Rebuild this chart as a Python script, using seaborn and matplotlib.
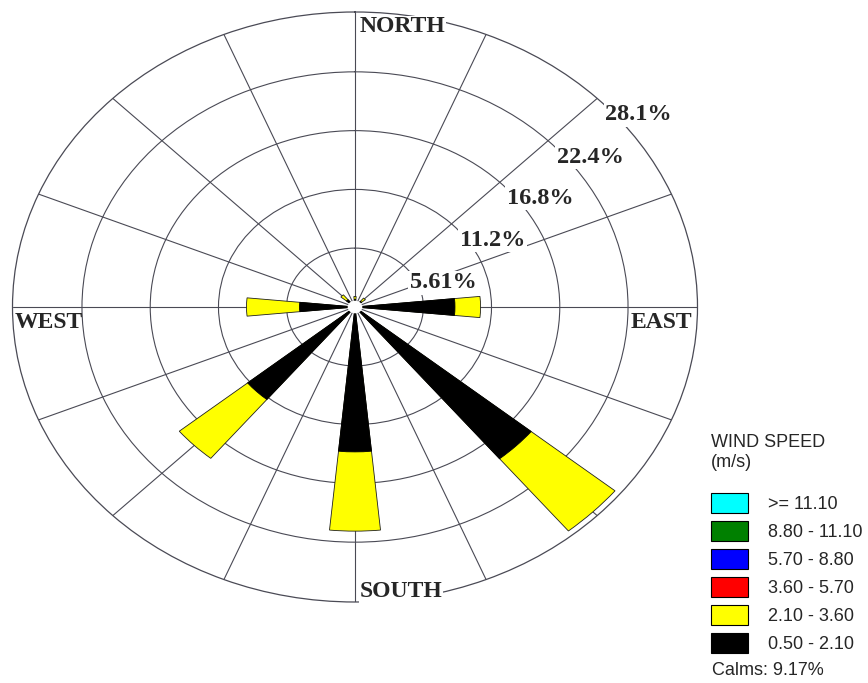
import numpy as np
import pandas as pd
import matplotlib
matplotlib.use("Agg")
import matplotlib.pyplot as plt
from matplotlib.patches import Patch
import seaborn as sns

# Wind direction sectors (compass order, clockwise from north)
directions = ["N", "NNE", "NE", "ENE", "E", "ESE", "SE", "SSE",
              "S", "SSW", "SW", "WSW", "W", "WNW", "NW", "NNW"]
# Frequency (%) per sector for each speed class
freq_050_210 = [0.7, 0, 0.7, 0, 8.2, 0, 18.7, 0,
                13.8, 0, 11.4, 0, 4.55, 0, 0.9, 0]
freq_210_360 = [0.3, 0, 0.4, 0, 2.1, 0, 8.9, 0,
                7.55, 0, 7.25, 0, 4.35, 0, 0.6, 0]

ring_values = [5.61, 11.2, 16.8, 22.4, 28.1]
ring_labels = ["5.61%", "11.2%", "16.8%", "22.4%", "28.1%"]

speed_classes = [">= 11.10", "8.80 - 11.10", "5.70 - 8.80",
                 "3.60 - 5.70", "2.10 - 3.60", "0.50 - 2.10"]
speed_colors = ["#00FFFF", "#008000", "#0000FF", "#FF0000", "#FFFF00", "#000000"]
calms = 9.17

sns.set_theme(style="white")
serif = ["Liberation Serif", "DejaVu Serif"]
sans = ["Liberation Sans", "DejaVu Sans"]
plt.rcParams["font.family"] = sans

df = pd.DataFrame({
    "direction": directions,
    "theta": np.deg2rad(np.arange(len(directions)) * 22.5),
    "low": freq_050_210,
    "mid": freq_210_360,
})
df["cum_mid"] = df["low"] + df["mid"]

fig = plt.figure(figsize=(8.68, 6.83), dpi=100)
ax = fig.add_axes([12.5 / 868, 81 / 683, 685 / 868, 590 / 683], projection="polar")
ax.set_aspect("auto")
ax.set_theta_zero_location("N")
ax.set_theta_direction(-1)
ax.set_axisbelow(True)

# Stacked petals: outer class first, inner class drawn over it
sns.barplot(data=df, x="theta", y="cum_mid", native_scale=True, width=0.5,
            color="#FFFF00", saturation=1, edgecolor="#202020", linewidth=0.6,
            errorbar=None, ax=ax, zorder=2)
sns.barplot(data=df, x="theta", y="low", native_scale=True, width=0.5,
            color="#000000", saturation=1, edgecolor="#000000", linewidth=0.6,
            errorbar=None, ax=ax, zorder=2)
ax.set_xlabel("")
ax.set_ylabel("")

# Small hole in the middle
ax.bar(0, 0.6, width=2 * np.pi, bottom=0, color="white", edgecolor="none", zorder=4)

ax.set_ylim(0, ring_values[-1])
ax.set_xticks(np.deg2rad(np.arange(16) * 22.5))
ax.set_xticklabels([])
ax.set_yticks(ring_values[:-1])
ax.set_yticklabels([])
ax.grid(True, color="#4a4a55", linewidth=0.8)
ax.spines["polar"].set_color("#4a4a55")
ax.spines["polar"].set_linewidth(0.9)

# Ring value labels along the north-east quadrant
label_pos = [(17.6, 7.58), (29.5, 12.95), (34.3, 18.4), (36.5, 24.0), (38.2, 29.6)]
for (phi, r), txt in zip(label_pos, ring_labels):
    ax.text(np.deg2rad(90 - phi), r, txt, ha="center", va="center",
            family=serif, weight="bold", fontsize=17.5, zorder=6,
            bbox=dict(facecolor="white", edgecolor="none", pad=1.0))

card = dict(family=serif, weight="bold", fontsize=17, zorder=6, transform=ax.transAxes)
ax.text(0.507, 0.975, "NORTH", ha="left", va="center",
        bbox=dict(facecolor="white", edgecolor="none", pad=0.5), **card)
ax.text(0.507, 0.017, "SOUTH", ha="left", va="center",
        bbox=dict(facecolor="white", edgecolor="none", pad=0.5), **card)
ax.text(0.003, 0.473, "WEST", ha="left", va="center", **card)
ax.text(0.992, 0.473, "EAST", ha="right", va="center", **card)

# Speed-class legend
handles = [Patch(facecolor=c, edgecolor="black", linewidth=0.8) for c in speed_colors]
leg = fig.legend(handles, speed_classes, loc="upper left",
                 bbox_to_anchor=(711 / 868, 1 - 434 / 683),
                 frameon=False, fontsize=13, title="WIND SPEED\n(m/s)",
                 title_fontsize=13, alignment="left", borderpad=0,
                 borderaxespad=0, handlelength=2.05, handleheight=1.3,
                 handletextpad=1.1, labelspacing=0.45)
leg._legend_box.sep = 16
fig.text(712 / 868, 0.012, f"Calms: {calms}%", ha="left", va="baseline", fontsize=13)

fig.savefig("out.png", dpi=100)
